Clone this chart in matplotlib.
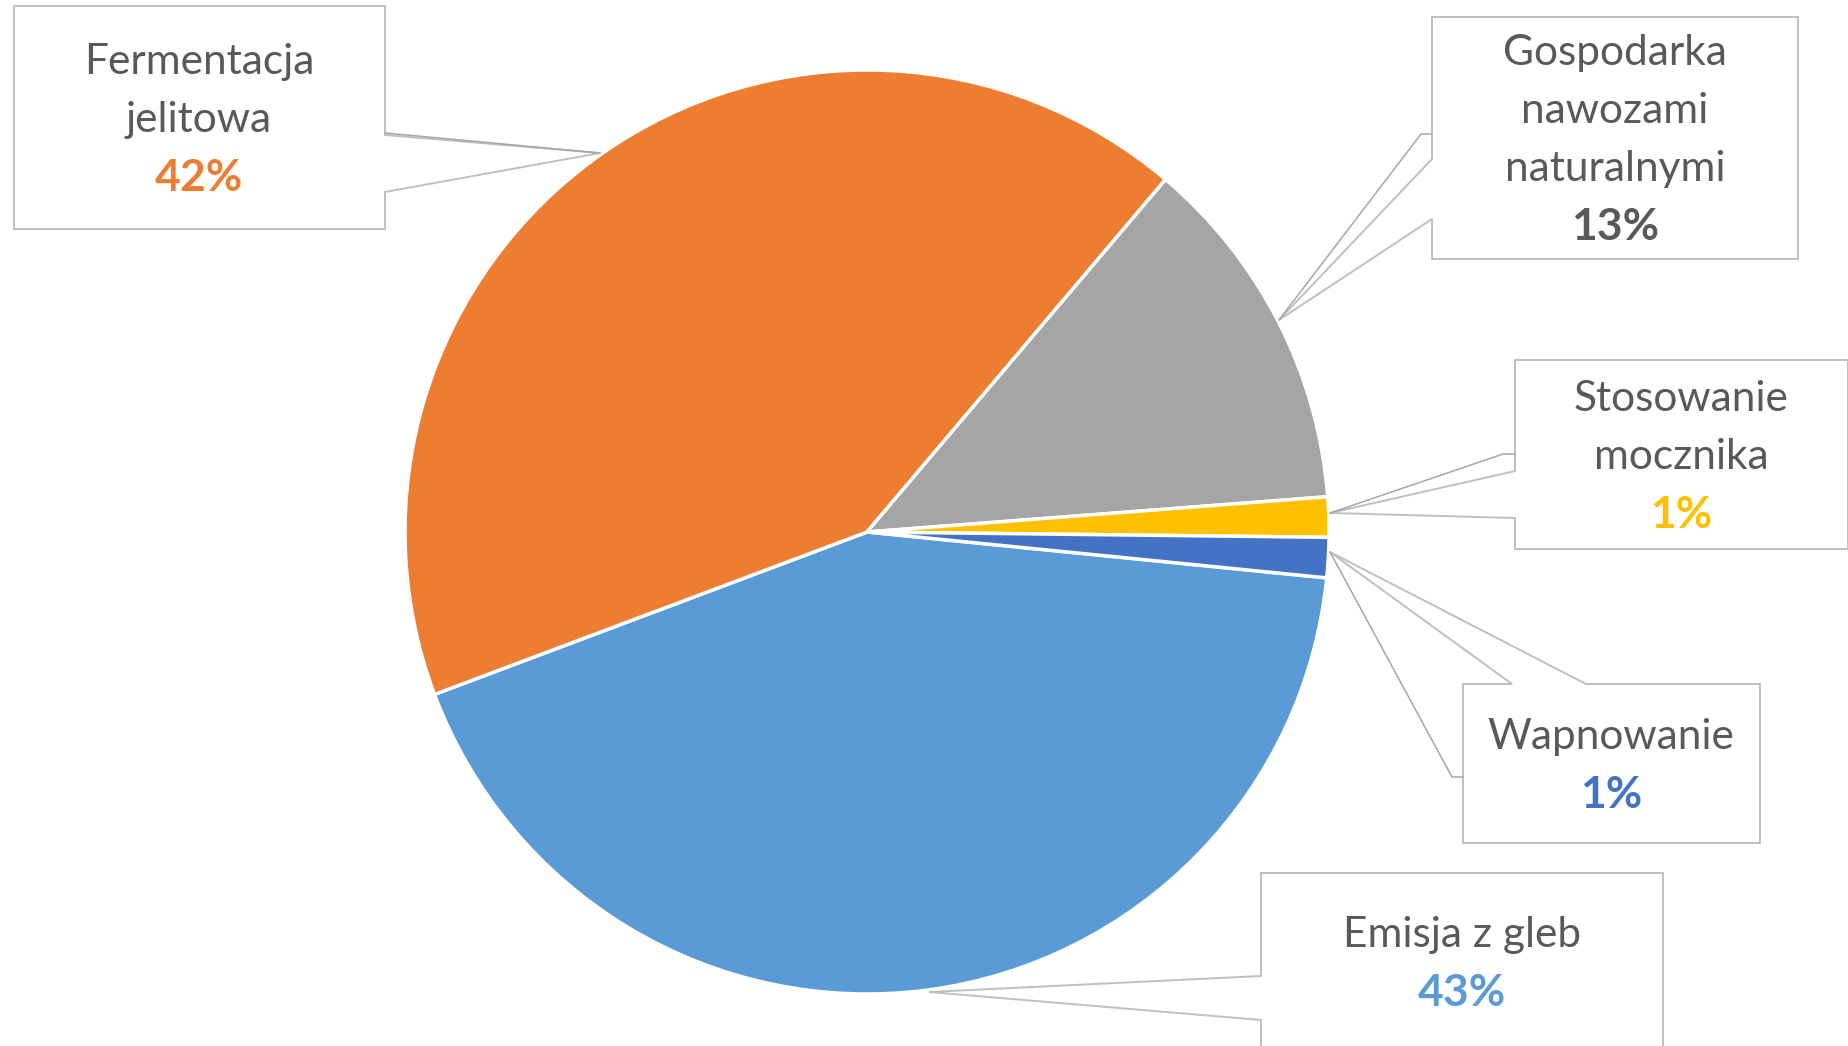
import matplotlib
matplotlib.use("Agg")
import matplotlib.pyplot as plt
from matplotlib.patches import Polygon

# --- data -------------------------------------------------------------
categories = ["Emisja z gleb", "Fermentacja jelitowa", "Gospodarka nawozami naturalnymi",
              "Stosowanie mocznika", "Wapnowanie"]
label_lines = [["Emisja z gleb"], ["Fermentacja", "jelitowa"],
               ["Gospodarka", "nawozami", "naturalnymi"], ["Stosowanie", "mocznika"],
               ["Wapnowanie"]]
shares = [42.7, 41.9, 12.6, 1.4, 1.4]

# --- styling ----------------------------------------------------------
slice_colors = ["#5B9BD5", "#ED7D31", "#A5A5A5", "#FFC000", "#4472C4"]
pct_colors = ["#5B9BD5", "#ED7D31", "#595959", "#FFC000", "#4472C4"]
text_color = "#595959"
box_edge = "#BFBFBF"
leader_color = "#A6A6A6"
FONT = "Lato"
NAME_SIZE = 30.5
PCT_SIZE = 32

W, H = 1849, 1046
CENTER = (867, 532)
RADIUS = 462
LINE_STEP = 58

# callout layout (pixel coordinates, y downwards)
callouts = [
    dict(cx=1462, y0=935,
         shape=[(1261, 873), (1663, 873), (1663, 1070), (1261, 1070), (1261, 1020),
                (929, 992), (1261, 976)],
         leader=None),
    dict(cx=199, y0=62,
         shape=[(14, 6), (385, 6), (385, 135), (600, 153), (385, 192), (385, 229), (14, 229)],
         leader=[(600, 153), (385, 133)]),
    dict(cx=1615, y0=53,
         shape=[(1432, 17), (1798, 17), (1798, 259), (1432, 259), (1432, 219),
                (1279, 320), (1432, 159)],
         leader=[(1279, 320), (1421, 134), (1432, 134)]),
    dict(cx=1681, y0=399,
         shape=[(1515, 360), (1848, 360), (1848, 549), (1515, 549), (1515, 518),
                (1330, 513), (1515, 471)],
         leader=[(1330, 513), (1503, 454), (1515, 454)]),
    dict(cx=1611, y0=737,
         shape=[(1463, 684), (1512, 684), (1330, 552), (1586, 684), (1760, 684),
                (1760, 843), (1463, 843)],
         leader=[(1330, 552), (1452, 777), (1463, 777)]),
]

fig = plt.figure(figsize=(W / 100, H / 100), dpi=100)
ax = fig.add_axes([0, 0, 1, 1])

# y axis points down, so counter-clockwise in data runs clockwise on screen
ax.pie(shares, colors=slice_colors, center=CENTER, radius=RADIUS,
       startangle=5.7, counterclock=True,
       wedgeprops=dict(edgecolor="white", linewidth=2.5, joinstyle="miter"))

ax.set_xlim(0, W)
ax.set_ylim(H, 0)
ax.set_aspect("equal")
ax.axis("off")

total = sum(shares)
for i, c in enumerate(callouts):
    ax.add_patch(Polygon(c["shape"], closed=True, facecolor="white",
                         edgecolor=box_edge, linewidth=1.4, zorder=3))
    if c["leader"]:
        xs, ys = zip(*c["leader"])
        ax.plot(xs, ys, color=leader_color, linewidth=1.1, zorder=4)
    y = c["y0"]
    for line in label_lines[i]:
        ax.text(c["cx"], y, line, ha="center", va="center", fontsize=NAME_SIZE,
                family=FONT, color=text_color, zorder=5)
        y += LINE_STEP
    pct = f"{round(shares[i] / total * 100):d}%"
    ax.text(c["cx"], y, pct, ha="center", va="center", fontsize=PCT_SIZE,
            family=FONT, fontweight="bold", color=pct_colors[i], zorder=5)

fig.savefig("out.png", dpi=100, facecolor="white")
